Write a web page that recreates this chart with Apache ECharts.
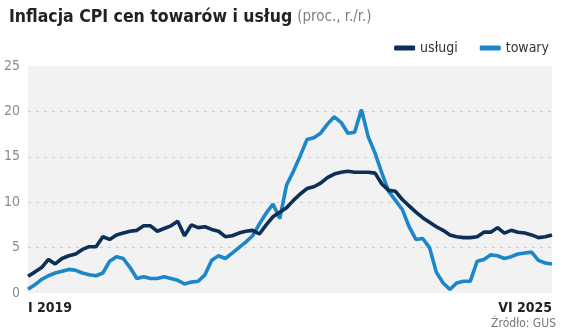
<!DOCTYPE html>
<html><head><meta charset="utf-8">
<script src="https://cdn.jsdelivr.net/npm/echarts@6/dist/echarts.min.js"></script>
<style>html,body{margin:0;padding:0;background:#fff}#c{width:564px;height:334px}</style>
</head><body><div id="c"></div>
<script>
const months = ['I','II','III','IV','V','VI','VII','VIII','IX','X','XI','XII'];
const categories = [];
for (let y = 2019; y <= 2025; y++) for (let m = 0; m < 12; m++) { if (y === 2025 && m > 5) break; categories.push(months[m] + ' ' + y); }

const uslugi = [1.85,2.3,2.8,3.7,3.2,3.8,4.1,4.3,4.8,5.1,5.1,6.2,5.9,6.4,6.6,6.8,6.9,7.4,7.4,6.8,
  7.1,7.4,7.9,6.3,7.5,7.2,7.3,7.0,6.8,6.2,6.3,6.6,6.8,6.9,6.5,7.5,8.4,8.9,9.4,10.2,
  10.9,11.5,11.7,12.1,12.7,13.1,13.3,13.4,13.3,13.3,13.3,13.2,12.0,11.3,11.2,10.3,9.6,8.9,8.3,7.8,
  7.3,6.9,6.4,6.2,6.1,6.1,6.2,6.7,6.7,7.2,6.6,6.9,6.7,6.6,6.4,6.1,6.2,6.4];
const towary = [0.4,0.9,1.5,1.9,2.2,2.4,2.6,2.5,2.2,2.0,1.9,2.2,3.5,4.0,3.8,2.8,1.6,1.8,1.6,1.6,
  1.8,1.6,1.4,1.0,1.2,1.3,2.0,3.6,4.1,3.8,4.4,5.0,5.6,6.3,7.6,8.8,9.8,8.2,11.9,13.4,
  15.1,16.9,17.1,17.6,18.6,19.4,18.8,17.6,17.7,20.2,17.2,15.4,13.2,11.2,10.2,9.2,7.3,5.9,6.0,5.0,
  2.3,1.1,0.4,1.1,1.3,1.3,3.5,3.7,4.2,4.1,3.8,4.0,4.3,4.4,4.5,3.6,3.3,3.2];
const yTicks = [0,5,10,15,20,25];

const FONT = '"Liberation Sans Narrow","DejaVu Sans Condensed","Liberation Sans",sans-serif';
const chart = echarts.init(document.getElementById('c'), null, {renderer:'canvas'});
const last = categories.length - 1;
chart.setOption({
  animation:false,
  title:{left:4, top:3, text:'{a|Inflacja CPI cen towarów i usług} {b|(proc., r./r.)}',
    textStyle:{rich:{a:{fontFamily:FONT,fontWeight:'bold',fontSize:17.5,color:'#222'},
                     b:{fontFamily:FONT,fontWeight:'normal',fontSize:15,color:'#808080'}}}},
  legend:{right:10, top:36, itemWidth:21, itemHeight:5, itemGap:22, icon:'roundRect',
    textStyle:{fontFamily:FONT,fontSize:14,color:'#333'}, data:['usługi','towary']},
  graphic:[{type:'text',right:8,bottom:4,style:{text:'Źródło: GUS',font:'12px '+FONT,fill:'#777'}}],
  grid:{left:28, right:12, top:66, bottom:41, show:true, backgroundColor:'#f2f2f2', borderWidth:0},
  xAxis:{type:'category', data:categories, boundaryGap:false,
    axisLine:{show:false}, axisTick:{show:false}, splitLine:{show:false},
    axisLabel:{interval:(i)=>i===0||i===last, showMinLabel:true, showMaxLabel:true,
      alignMinLabel:'left', alignMaxLabel:'right', margin:8,
      fontFamily:FONT, fontWeight:'bold', fontSize:14, color:'#222'}},
  yAxis:{type:'value', min:yTicks[0], max:yTicks[yTicks.length-1], interval:5,
    axisLine:{show:false}, axisTick:{show:false},
    axisLabel:{margin:8, fontFamily:FONT, fontSize:14, color:'#8a8a8a'},
    splitLine:{show:true, lineStyle:{type:[3,5], width:1,
      color:['rgba(0,0,0,0)','#cfcfcf','#cfcfcf','#cfcfcf','#cfcfcf','rgba(0,0,0,0)']}}},
  series:[
    {name:'usługi', type:'line', data:uslugi, showSymbol:false, symbol:'none', lineStyle:{width:3.6,color:'#0c2f57'}, itemStyle:{color:'#0c2f57'}, z:3},
    {name:'towary', type:'line', data:towary, showSymbol:false, symbol:'none', lineStyle:{width:3.6,color:'#1b87c9'}, itemStyle:{color:'#1b87c9'}, z:2}
  ]
});
</script></body></html>
